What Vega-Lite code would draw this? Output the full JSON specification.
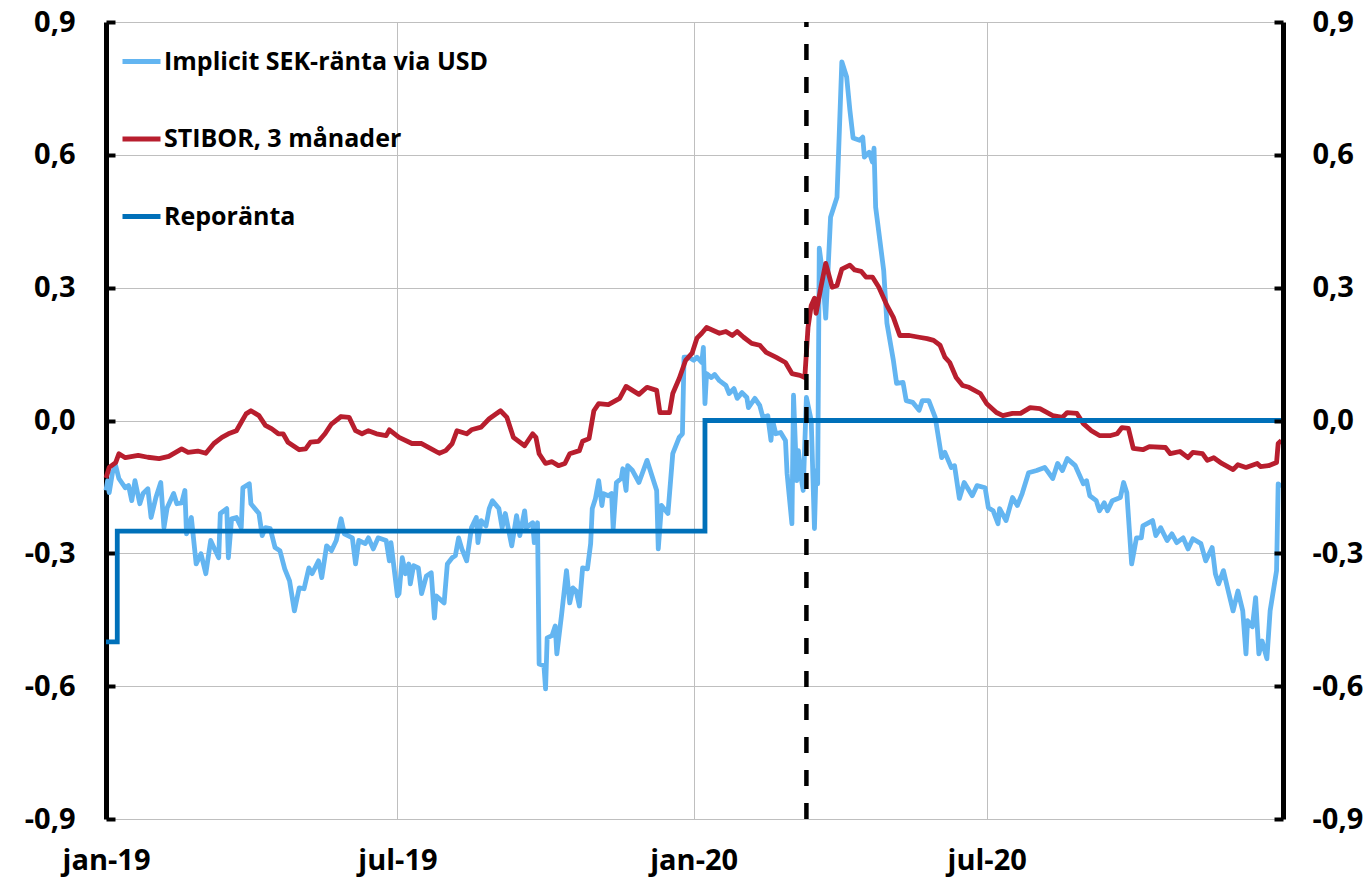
{
  "$schema": "https://vega.github.io/schema/vega-lite/v6.json",
  "autosize": {"type": "none"},
  "padding": {"left": 106, "top": 22, "right": 88, "bottom": 60},
  "width": 1177,
  "height": 797,
  "background": "white",
  "config": {
    "view": {"stroke": null},
    "font": "Open Sans",
    "legend": {
      "orient": "none", "legendX": 14, "legendY": 18, "symbolType": "stroke", "symbolSize": 1444,
      "symbolStrokeWidth": 5, "labelFontSize": 25, "labelFont": "Open Sans", "labelFontWeight": "bold",
      "labelColor": "#000000", "rowPadding": 42.5, "labelOffset": 1, "title": null, "labelLimit": 0, "padding": 0
    }
  },
  "datasets": {
    "implicit": [
      {"date":"2019-01-01","value":-0.158},{"date":"2019-01-02","value":-0.136},{"date":"2019-01-03","value":-0.163},{"date":"2019-01-05","value":-0.118},{"date":"2019-01-07","value":-0.102},{"date":"2019-01-09","value":-0.131},{"date":"2019-01-13","value":-0.152},{"date":"2019-01-15","value":-0.147},{"date":"2019-01-17","value":-0.181},{"date":"2019-01-19","value":-0.136},{"date":"2019-01-22","value":-0.188},{"date":"2019-01-24","value":-0.165},{"date":"2019-01-27","value":-0.154},{"date":"2019-01-29","value":-0.219},{"date":"2019-02-01","value":-0.174},{"date":"2019-02-04","value":-0.14},{"date":"2019-02-06","value":-0.242},{"date":"2019-02-08","value":-0.197},{"date":"2019-02-12","value":-0.165},{"date":"2019-02-14","value":-0.188},{"date":"2019-02-17","value":-0.186},{"date":"2019-02-19","value":-0.158},{"date":"2019-02-20","value":-0.256},{"date":"2019-02-23","value":-0.219},{"date":"2019-02-26","value":-0.324},{"date":"2019-03-01","value":-0.301},{"date":"2019-03-04","value":-0.346},{"date":"2019-03-07","value":-0.271},{"date":"2019-03-09","value":-0.287},{"date":"2019-03-12","value":-0.31},{"date":"2019-03-13","value":-0.21},{"date":"2019-03-17","value":-0.199},{"date":"2019-03-18","value":-0.31},{"date":"2019-03-20","value":-0.222},{"date":"2019-03-23","value":-0.219},{"date":"2019-03-26","value":-0.242},{"date":"2019-03-27","value":-0.152},{"date":"2019-03-31","value":-0.143},{"date":"2019-04-01","value":-0.188},{"date":"2019-04-06","value":-0.21},{"date":"2019-04-08","value":-0.26},{"date":"2019-04-10","value":-0.242},{"date":"2019-04-13","value":-0.244},{"date":"2019-04-16","value":-0.287},{"date":"2019-04-19","value":-0.294},{"date":"2019-04-22","value":-0.335},{"date":"2019-04-25","value":-0.362},{"date":"2019-04-28","value":-0.43},{"date":"2019-05-01","value":-0.378},{"date":"2019-05-04","value":-0.38},{"date":"2019-05-07","value":-0.333},{"date":"2019-05-09","value":-0.346},{"date":"2019-05-13","value":-0.317},{"date":"2019-05-15","value":-0.355},{"date":"2019-05-18","value":-0.283},{"date":"2019-05-21","value":-0.294},{"date":"2019-05-24","value":-0.271},{"date":"2019-05-27","value":-0.222},{"date":"2019-05-29","value":-0.256},{"date":"2019-06-03","value":-0.265},{"date":"2019-06-05","value":-0.324},{"date":"2019-06-07","value":-0.271},{"date":"2019-06-11","value":-0.278},{"date":"2019-06-13","value":-0.265},{"date":"2019-06-16","value":-0.29},{"date":"2019-06-19","value":-0.265},{"date":"2019-06-24","value":-0.271},{"date":"2019-06-26","value":-0.317},{"date":"2019-06-27","value":-0.276},{"date":"2019-07-01","value":-0.396},{"date":"2019-07-02","value":-0.391},{"date":"2019-07-04","value":-0.31},{"date":"2019-07-06","value":-0.346},{"date":"2019-07-08","value":-0.324},{"date":"2019-07-09","value":-0.369},{"date":"2019-07-11","value":-0.328},{"date":"2019-07-14","value":-0.333},{"date":"2019-07-16","value":-0.391},{"date":"2019-07-19","value":-0.351},{"date":"2019-07-22","value":-0.344},{"date":"2019-07-24","value":-0.446},{"date":"2019-07-25","value":-0.396},{"date":"2019-07-30","value":-0.412},{"date":"2019-08-01","value":-0.324},{"date":"2019-08-04","value":-0.31},{"date":"2019-08-06","value":-0.305},{"date":"2019-08-08","value":-0.265},{"date":"2019-08-10","value":-0.29},{"date":"2019-08-13","value":-0.317},{"date":"2019-08-16","value":-0.242},{"date":"2019-08-19","value":-0.219},{"date":"2019-08-20","value":-0.276},{"date":"2019-08-22","value":-0.226},{"date":"2019-08-25","value":-0.238},{"date":"2019-08-27","value":-0.199},{"date":"2019-08-29","value":-0.181},{"date":"2019-09-02","value":-0.199},{"date":"2019-09-04","value":-0.242},{"date":"2019-09-06","value":-0.21},{"date":"2019-09-10","value":-0.283},{"date":"2019-09-13","value":-0.215},{"date":"2019-09-15","value":-0.26},{"date":"2019-09-18","value":-0.204},{"date":"2019-09-19","value":-0.242},{"date":"2019-09-23","value":-0.231},{"date":"2019-09-24","value":-0.276},{"date":"2019-09-26","value":-0.231},{"date":"2019-09-27","value":-0.55},{"date":"2019-09-30","value":-0.554},{"date":"2019-10-01","value":-0.606},{"date":"2019-10-02","value":-0.491},{"date":"2019-10-05","value":-0.486},{"date":"2019-10-07","value":-0.464},{"date":"2019-10-08","value":-0.527},{"date":"2019-10-11","value":-0.437},{"date":"2019-10-14","value":-0.339},{"date":"2019-10-16","value":-0.412},{"date":"2019-10-18","value":-0.378},{"date":"2019-10-20","value":-0.385},{"date":"2019-10-22","value":-0.419},{"date":"2019-10-24","value":-0.333},{"date":"2019-10-27","value":-0.335},{"date":"2019-10-29","value":-0.278},{"date":"2019-10-30","value":-0.199},{"date":"2019-11-01","value":-0.176},{"date":"2019-11-03","value":-0.136},{"date":"2019-11-05","value":-0.192},{"date":"2019-11-06","value":-0.165},{"date":"2019-11-09","value":-0.17},{"date":"2019-11-11","value":-0.165},{"date":"2019-11-12","value":-0.244},{"date":"2019-11-14","value":-0.14},{"date":"2019-11-17","value":-0.131},{"date":"2019-11-18","value":-0.109},{"date":"2019-11-20","value":-0.158},{"date":"2019-11-21","value":-0.102},{"date":"2019-11-24","value":-0.113},{"date":"2019-11-28","value":-0.14},{"date":"2019-12-03","value":-0.09},{"date":"2019-12-09","value":-0.158},{"date":"2019-12-10","value":-0.29},{"date":"2019-12-12","value":-0.192},{"date":"2019-12-16","value":-0.21},{"date":"2019-12-19","value":-0.075},{"date":"2019-12-23","value":-0.038},{"date":"2019-12-25","value":-0.03},{"date":"2019-12-26","value":0.143},{"date":"2019-12-29","value":0.143},{"date":"2020-01-01","value":0.136},{"date":"2020-01-03","value":0.143},{"date":"2020-01-06","value":0.131},{"date":"2020-01-07","value":0.165},{"date":"2020-01-08","value":0.038},{"date":"2020-01-09","value":0.106},{"date":"2020-01-12","value":0.097},{"date":"2020-01-14","value":0.104},{"date":"2020-01-17","value":0.09},{"date":"2020-01-21","value":0.079},{"date":"2020-01-23","value":0.061},{"date":"2020-01-26","value":0.072},{"date":"2020-01-28","value":0.05},{"date":"2020-01-31","value":0.063},{"date":"2020-02-03","value":0.052},{"date":"2020-02-04","value":0.029},{"date":"2020-02-08","value":0.05},{"date":"2020-02-11","value":0.034},{"date":"2020-02-13","value":0.007},{"date":"2020-02-16","value":0.011},{"date":"2020-02-18","value":-0.045},{"date":"2020-02-19","value":0},{"date":"2020-02-21","value":-0.03},{"date":"2020-02-24","value":-0.027},{"date":"2020-02-27","value":-0.045},{"date":"2020-02-28","value":-0.12},{"date":"2020-03-02","value":-0.233},{"date":"2020-03-03","value":0.057},{"date":"2020-03-05","value":-0.136},{"date":"2020-03-06","value":-0.068},{"date":"2020-03-08","value":-0.136},{"date":"2020-03-09","value":-0.158},{"date":"2020-03-11","value":0.052},{"date":"2020-03-14","value":0},{"date":"2020-03-16","value":-0.244},{"date":"2020-03-17","value":-0.113},{"date":"2020-03-18","value":-0.143},{"date":"2020-03-19","value":0.389},{"date":"2020-03-21","value":0.333},{"date":"2020-03-23","value":0.231},{"date":"2020-03-26","value":0.459},{"date":"2020-03-30","value":0.504},{"date":"2020-04-02","value":0.81},{"date":"2020-04-05","value":0.776},{"date":"2020-04-07","value":0.701},{"date":"2020-04-09","value":0.638},{"date":"2020-04-13","value":0.633},{"date":"2020-04-15","value":0.64},{"date":"2020-04-16","value":0.595},{"date":"2020-04-19","value":0.606},{"date":"2020-04-21","value":0.584},{"date":"2020-04-22","value":0.615},{"date":"2020-04-23","value":0.482},{"date":"2020-04-28","value":0.339},{"date":"2020-04-30","value":0.22},{"date":"2020-05-04","value":0.136},{"date":"2020-05-06","value":0.084},{"date":"2020-05-10","value":0.086},{"date":"2020-05-12","value":0.045},{"date":"2020-05-16","value":0.041},{"date":"2020-05-20","value":0.023},{"date":"2020-05-22","value":0.045},{"date":"2020-05-26","value":0.045},{"date":"2020-05-30","value":0.007},{"date":"2020-06-03","value":-0.084},{"date":"2020-06-05","value":-0.072},{"date":"2020-06-09","value":-0.106},{"date":"2020-06-11","value":-0.102},{"date":"2020-06-14","value":-0.176},{"date":"2020-06-17","value":-0.14},{"date":"2020-06-22","value":-0.17},{"date":"2020-06-25","value":-0.147},{"date":"2020-06-30","value":-0.152},{"date":"2020-07-02","value":-0.197},{"date":"2020-07-05","value":-0.204},{"date":"2020-07-08","value":-0.233},{"date":"2020-07-09","value":-0.199},{"date":"2020-07-13","value":-0.226},{"date":"2020-07-17","value":-0.174},{"date":"2020-07-20","value":-0.192},{"date":"2020-07-23","value":-0.165},{"date":"2020-07-27","value":-0.118},{"date":"2020-08-01","value":-0.113},{"date":"2020-08-06","value":-0.106},{"date":"2020-08-11","value":-0.131},{"date":"2020-08-14","value":-0.097},{"date":"2020-08-17","value":-0.113},{"date":"2020-08-20","value":-0.086},{"date":"2020-08-25","value":-0.102},{"date":"2020-08-30","value":-0.143},{"date":"2020-09-01","value":-0.136},{"date":"2020-09-03","value":-0.17},{"date":"2020-09-07","value":-0.181},{"date":"2020-09-09","value":-0.204},{"date":"2020-09-12","value":-0.186},{"date":"2020-09-14","value":-0.204},{"date":"2020-09-17","value":-0.181},{"date":"2020-09-22","value":-0.174},{"date":"2020-09-24","value":-0.14},{"date":"2020-09-26","value":-0.163},{"date":"2020-09-29","value":-0.324},{"date":"2020-10-02","value":-0.265},{"date":"2020-10-05","value":-0.265},{"date":"2020-10-06","value":-0.238},{"date":"2020-10-12","value":-0.226},{"date":"2020-10-14","value":-0.26},{"date":"2020-10-17","value":-0.242},{"date":"2020-10-21","value":-0.271},{"date":"2020-10-24","value":-0.256},{"date":"2020-10-27","value":-0.276},{"date":"2020-10-31","value":-0.265},{"date":"2020-11-03","value":-0.29},{"date":"2020-11-06","value":-0.267},{"date":"2020-11-11","value":-0.278},{"date":"2020-11-14","value":-0.317},{"date":"2020-11-18","value":-0.287},{"date":"2020-11-20","value":-0.346},{"date":"2020-11-22","value":-0.369},{"date":"2020-11-25","value":-0.339},{"date":"2020-11-28","value":-0.385},{"date":"2020-12-01","value":-0.43},{"date":"2020-12-04","value":-0.385},{"date":"2020-12-07","value":-0.43},{"date":"2020-12-09","value":-0.527},{"date":"2020-12-10","value":-0.452},{"date":"2020-12-13","value":-0.466},{"date":"2020-12-15","value":-0.4},{"date":"2020-12-17","value":-0.527},{"date":"2020-12-19","value":-0.498},{"date":"2020-12-22","value":-0.538},{"date":"2020-12-24","value":-0.43},{"date":"2020-12-28","value":-0.339},{"date":"2020-12-29","value":-0.143},{"date":"2020-12-31","value":-0.15}
    ],
    "stibor": [
      {"date":"2019-01-01","value":-0.13},{"date":"2019-01-03","value":-0.106},{"date":"2019-01-07","value":-0.095},{"date":"2019-01-09","value":-0.075},{"date":"2019-01-13","value":-0.084},{"date":"2019-01-21","value":-0.079},{"date":"2019-01-27","value":-0.083},{"date":"2019-02-03","value":-0.086},{"date":"2019-02-09","value":-0.081},{"date":"2019-02-17","value":-0.064},{"date":"2019-02-21","value":-0.072},{"date":"2019-02-27","value":-0.069},{"date":"2019-03-04","value":-0.074},{"date":"2019-03-09","value":-0.052},{"date":"2019-03-14","value":-0.038},{"date":"2019-03-18","value":-0.03},{"date":"2019-03-23","value":-0.023},{"date":"2019-03-26","value":-0.004},{"date":"2019-03-29","value":0.015},{"date":"2019-04-01","value":0.022},{"date":"2019-04-06","value":0.011},{"date":"2019-04-10","value":-0.011},{"date":"2019-04-14","value":-0.019},{"date":"2019-04-18","value":-0.03},{"date":"2019-04-21","value":-0.03},{"date":"2019-04-24","value":-0.049},{"date":"2019-05-01","value":-0.066},{"date":"2019-05-05","value":-0.064},{"date":"2019-05-08","value":-0.049},{"date":"2019-05-13","value":-0.047},{"date":"2019-05-17","value":-0.03},{"date":"2019-05-21","value":-0.008},{"date":"2019-05-27","value":0.009},{"date":"2019-06-01","value":0.007},{"date":"2019-06-05","value":-0.023},{"date":"2019-06-09","value":-0.03},{"date":"2019-06-13","value":-0.023},{"date":"2019-06-18","value":-0.03},{"date":"2019-06-24","value":-0.034},{"date":"2019-06-26","value":-0.021},{"date":"2019-07-02","value":-0.038},{"date":"2019-07-10","value":-0.052},{"date":"2019-07-16","value":-0.052},{"date":"2019-07-22","value":-0.064},{"date":"2019-07-27","value":-0.074},{"date":"2019-07-31","value":-0.068},{"date":"2019-08-04","value":-0.052},{"date":"2019-08-07","value":-0.023},{"date":"2019-08-13","value":-0.03},{"date":"2019-08-16","value":-0.021},{"date":"2019-08-22","value":-0.015},{"date":"2019-08-27","value":0.004},{"date":"2019-09-03","value":0.022},{"date":"2019-09-07","value":0.007},{"date":"2019-09-11","value":-0.038},{"date":"2019-09-18","value":-0.057},{"date":"2019-09-23","value":-0.03},{"date":"2019-09-25","value":-0.038},{"date":"2019-09-27","value":-0.075},{"date":"2019-10-01","value":-0.097},{"date":"2019-10-05","value":-0.093},{"date":"2019-10-09","value":-0.102},{"date":"2019-10-13","value":-0.097},{"date":"2019-10-16","value":-0.075},{"date":"2019-10-22","value":-0.068},{"date":"2019-10-24","value":-0.047},{"date":"2019-10-28","value":-0.041},{"date":"2019-10-31","value":0.022},{"date":"2019-11-03","value":0.038},{"date":"2019-11-09","value":0.036},{"date":"2019-11-16","value":0.05},{"date":"2019-11-20","value":0.077},{"date":"2019-11-28","value":0.059},{"date":"2019-12-03","value":0.075},{"date":"2019-12-09","value":0.068},{"date":"2019-12-11","value":0.018},{"date":"2019-12-17","value":0.018},{"date":"2019-12-19","value":0.061},{"date":"2019-12-23","value":0.095},{"date":"2019-12-27","value":0.136},{"date":"2019-12-31","value":0.152},{"date":"2020-01-03","value":0.186},{"date":"2020-01-06","value":0.197},{"date":"2020-01-09","value":0.21},{"date":"2020-01-17","value":0.197},{"date":"2020-01-21","value":0.201},{"date":"2020-01-25","value":0.192},{"date":"2020-01-28","value":0.201},{"date":"2020-02-01","value":0.188},{"date":"2020-02-06","value":0.174},{"date":"2020-02-11","value":0.17},{"date":"2020-02-15","value":0.154},{"date":"2020-02-21","value":0.143},{"date":"2020-02-27","value":0.131},{"date":"2020-03-02","value":0.106},{"date":"2020-03-07","value":0.102},{"date":"2020-03-10","value":0.097},{"date":"2020-03-12","value":0.21},{"date":"2020-03-14","value":0.26},{"date":"2020-03-16","value":0.276},{"date":"2020-03-17","value":0.242},{"date":"2020-03-20","value":0.301},{"date":"2020-03-23","value":0.355},{"date":"2020-03-27","value":0.301},{"date":"2020-03-30","value":0.305},{"date":"2020-04-02","value":0.342},{"date":"2020-04-07","value":0.351},{"date":"2020-04-10","value":0.34},{"date":"2020-04-14","value":0.337},{"date":"2020-04-17","value":0.324},{"date":"2020-04-21","value":0.324},{"date":"2020-04-25","value":0.301},{"date":"2020-04-30","value":0.26},{"date":"2020-05-04","value":0.233},{"date":"2020-05-08","value":0.192},{"date":"2020-05-14","value":0.192},{"date":"2020-05-20","value":0.188},{"date":"2020-05-25","value":0.185},{"date":"2020-05-29","value":0.181},{"date":"2020-06-02","value":0.17},{"date":"2020-06-05","value":0.143},{"date":"2020-06-08","value":0.131},{"date":"2020-06-12","value":0.097},{"date":"2020-06-16","value":0.079},{"date":"2020-06-20","value":0.075},{"date":"2020-06-27","value":0.061},{"date":"2020-07-01","value":0.038},{"date":"2020-07-07","value":0.018},{"date":"2020-07-11","value":0.011},{"date":"2020-07-17","value":0.016},{"date":"2020-07-22","value":0.016},{"date":"2020-07-28","value":0.029},{"date":"2020-08-03","value":0.027},{"date":"2020-08-11","value":0.011},{"date":"2020-08-17","value":0.007},{"date":"2020-08-20","value":0.018},{"date":"2020-08-26","value":0.016},{"date":"2020-08-30","value":-0.007},{"date":"2020-09-04","value":-0.023},{"date":"2020-09-09","value":-0.034},{"date":"2020-09-16","value":-0.034},{"date":"2020-09-20","value":-0.03},{"date":"2020-09-23","value":-0.016},{"date":"2020-09-27","value":-0.018},{"date":"2020-09-30","value":-0.063},{"date":"2020-10-06","value":-0.066},{"date":"2020-10-10","value":-0.059},{"date":"2020-10-20","value":-0.061},{"date":"2020-10-23","value":-0.075},{"date":"2020-10-29","value":-0.07},{"date":"2020-11-03","value":-0.084},{"date":"2020-11-06","value":-0.072},{"date":"2020-11-12","value":-0.075},{"date":"2020-11-15","value":-0.09},{"date":"2020-11-19","value":-0.084},{"date":"2020-11-24","value":-0.097},{"date":"2020-12-01","value":-0.111},{"date":"2020-12-04","value":-0.1},{"date":"2020-12-09","value":-0.106},{"date":"2020-12-16","value":-0.097},{"date":"2020-12-18","value":-0.104},{"date":"2020-12-23","value":-0.102},{"date":"2020-12-28","value":-0.095},{"date":"2020-12-29","value":-0.052},{"date":"2020-12-31","value":-0.045}
    ],
    "repo": [
      {"date":"2019-01-01","value":-0.5},{"date":"2019-01-08","value":-0.25},{"date":"2020-01-08","value":0},{"date":"2021-01-01","value":0}
    ],
    "events": [{"date":"2020-03-11"}]
  },
  "encoding": {
    "x": {
      "field": "date", "type": "temporal",
      "scale": {"type": "utc", "domain": [{"year":2019,"month":1,"date":1,"utc":true},{"year":2021,"month":1,"date":1,"utc":true}]},
      "axis": {
        "title": null,
        "values": [{"year":2019,"month":1,"date":1,"utc":true},{"year":2019,"month":7,"date":1,"utc":true},{"year":2020,"month":1,"date":1,"utc":true},{"year":2020,"month":7,"date":1,"utc":true}],
        "labelExpr": "['jan','feb','mar','apr','maj','jun','jul','aug','sep','okt','nov','dec'][utcmonth(datum.value)] + '-' + utcFormat(datum.value, '%y')",
        "labelFlush": false, "labelOverlap": false,
        "domain": false, "ticks": false, "grid": true, "gridColor": "#BFBFBF", "gridWidth": 1,
        "labelFontSize": 29, "labelFont": "Open Sans", "labelFontWeight": "bold", "labelColor": "#000000", "labelPadding": 27
      }
    }
  },
  "layer": [
    {
      "data": {"name": "implicit"},
      "mark": {"type": "line", "strokeWidth": 4.8, "strokeJoin": "round"},
      "encoding": {
        "y": {"field": "value", "type": "quantitative",
          "scale": {"domain": [-0.9, 0.9], "nice": false, "zero": false},
          "axis": {"orient": "left", "title": null, "values": [-0.9,-0.6,-0.3,0,0.3,0.6,0.9],
            "labelExpr": "replace(replace(format(datum.value,'.1f'),'.',','),'−','-')",
            "grid": true, "gridColor": "#BFBFBF", "gridWidth": 1,
            "domainColor": "#000000", "domainWidth": 5, "tickColor": "#000000", "tickWidth": 4, "tickSize": -9,
            "labelPadding": 40, "labelFontSize": 29, "labelFont": "Open Sans", "labelFontWeight": "bold", "labelColor": "#000000"}},
        "color": {"datum": "Implicit SEK-ränta via USD", "type": "nominal",
          "scale": {"domain": ["Implicit SEK-ränta via USD", "STIBOR, 3 månader", "Reporänta"], "range": ["#63B5F1", "#B81E2E", "#0070B9"]}}
      }
    },
    {
      "data": {"name": "stibor"},
      "mark": {"type": "line", "strokeWidth": 4.8, "strokeJoin": "round"},
      "encoding": {
        "y": {"field": "value", "type": "quantitative", "axis": null},
        "color": {"datum": "STIBOR, 3 månader", "type": "nominal"}
      }
    },
    {
      "data": {"name": "repo"},
      "mark": {"type": "line", "strokeWidth": 4.8, "interpolate": "step-after"},
      "encoding": {
        "y": {"field": "value", "type": "quantitative",
          "axis": {"orient": "right", "title": null, "values": [-0.9,-0.6,-0.3,0,0.3,0.6,0.9],
            "labelExpr": "replace(replace(format(datum.value,'.1f'),'.',','),'−','-')",
            "grid": false, "zindex": 1,
            "domainColor": "#000000", "domainWidth": 5, "tickColor": "#000000", "tickWidth": 4, "tickSize": -9,
            "labelPadding": 38, "labelFontSize": 29, "labelFont": "Open Sans", "labelFontWeight": "bold", "labelColor": "#000000"}},
        "color": {"datum": "Reporänta", "type": "nominal"}
      }
    },
    {
      "data": {"name": "events"},
      "mark": {"type": "rule", "color": "#000000", "strokeWidth": 4.5, "strokeDash": [16, 17], "strokeDashOffset": 11},
      "encoding": {}
    }
  ],
  "resolve": {"axis": {"y": "independent"}}
}
